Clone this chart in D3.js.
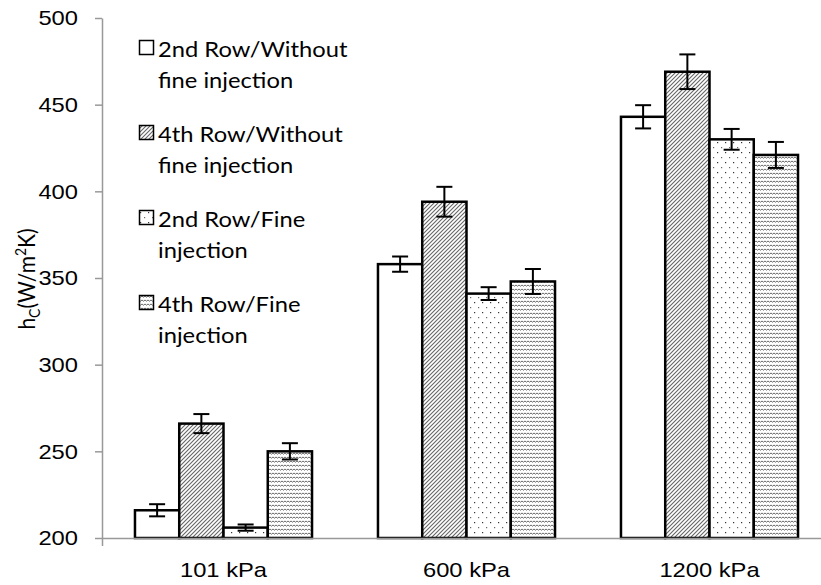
<!DOCTYPE html>
<html>
<head>
<meta charset="utf-8">
<script src="https://cdn.jsdelivr.net/npm/d3@7/dist/d3.min.js"></script>
<style>
  body { margin: 0; background: #fff; }
  svg { display: block; font-family: Lato, "Open Sans", sans-serif; }
</style>
</head>
<body>
<div id="chart"></div>
<script>
// pressures on the category axis
var categories = ["101 kPa", "600 kPa", "1200 kPa"];
var seriesNames = ["2nd Row/Without fine injection", "4th Row/Without fine injection",
                   "2nd Row/Fine injection", "4th Row/Fine injection"];
// h_C values (W/m2K) per series, one per category
var row2NoFine = [216, 358, 443];
var row4NoFine = [266, 394, 469];
var row2Fine   = [206, 341, 430];
var row4Fine   = [250, 348, 421];
// error bar half-widths
var row2NoFineErr = [3.5, 4.4, 6.7];
var row4NoFineErr = [5.5, 8.6, 10];
var row2FineErr   = [1.8, 3.7, 6];
var row4FineErr   = [4.7, 7.2, 7.5];
var yTicks = [200, 250, 300, 350, 400, 450, 500];
// legend lines, already wrapped like the source
var legendLines = [["2nd Row/Without", "fine injection"], ["4th Row/Without", "fine injection"],
                   ["2nd Row/Fine", "injection"], ["4th Row/Fine", "injection"]];

var values = [row2NoFine, row4NoFine, row2Fine, row4Fine];
var errors = [row2NoFineErr, row4NoFineErr, row2FineErr, row4FineErr];
var fills = ["#fff", "url(#pDiag)", "url(#pDots)", "url(#pWave)"];

var width = 821, height = 585;
var stretch = "scale(1.13,1)";   // source text is a bit wide
var svg = d3.select("#chart").append("svg").attr("width", width).attr("height", height);

// fill patterns
var defs = svg.append("defs");
var pd = defs.append("pattern").attr("id", "pDiag").attr("patternUnits", "userSpaceOnUse")
  .attr("width", 4).attr("height", 4);
pd.append("rect").attr("width", 4).attr("height", 4).attr("fill", "#fff");
pd.append("path").attr("d", "M-1,1 l2,-2 M0,4 l4,-4 M3,5 l2,-2")
  .attr("stroke", "#666").attr("stroke-width", 1.1);

var pt = defs.append("pattern").attr("id", "pDots").attr("patternUnits", "userSpaceOnUse")
  .attr("width", 8).attr("height", 10);
pt.append("rect").attr("width", 8).attr("height", 10).attr("fill", "#fff");
pt.append("rect").attr("x", 1).attr("y", 2).attr("width", 1.2).attr("height", 1.2).attr("fill", "#333");
pt.append("rect").attr("x", 5).attr("y", 7).attr("width", 1.2).attr("height", 1.2).attr("fill", "#666");

var pw = defs.append("pattern").attr("id", "pWave").attr("patternUnits", "userSpaceOnUse")
  .attr("width", 6).attr("height", 4);
pw.append("rect").attr("width", 6).attr("height", 4).attr("fill", "#fff");
pw.append("path").attr("d", "M0,1 l1.5,1.2 l1.5,-1.2 l1.5,1.2 l1.5,-1.2")
  .attr("fill", "none").attr("stroke", "#6a6a6a").attr("stroke-width", 1);

var x0 = d3.scaleBand().domain(categories).range([102, 831]).padding(0);
var x1 = d3.scaleBand().domain(d3.range(4)).range([0, x0.bandwidth()])
  .paddingInner(0).paddingOuter(0.745);
var y = d3.scaleLinear().domain([200, 500]).range([538, 18]);

// bars
var groups = svg.selectAll("g.cat").data(categories).enter().append("g")
  .attr("class", "cat").attr("transform", function(d) { return "translate(" + x0(d) + ",0)"; });

groups.each(function(cat, ci) {
  var g = d3.select(this);
  var recs = values.map(function(v, si) { return { s: si, v: v[ci], e: errors[si][ci] }; });
  g.selectAll("rect").data(recs).enter().append("rect")
    .attr("x", function(d) { return x1(d.s); })
    .attr("y", function(d) { return y(d.v); })
    .attr("width", x1.bandwidth())
    .attr("height", function(d) { return y(200) - y(d.v); })
    .attr("fill", function(d) { return fills[d.s]; })
    .attr("stroke", "#000").attr("stroke-width", 2.5);

  var eb = g.selectAll("g.err").data(recs).enter().append("g").attr("class", "err")
    .attr("stroke", "#000").attr("stroke-width", 2);
  eb.append("line")
    .attr("x1", function(d) { return x1(d.s) + x1.bandwidth() / 2; })
    .attr("x2", function(d) { return x1(d.s) + x1.bandwidth() / 2; })
    .attr("y1", function(d) { return y(d.v + d.e); })
    .attr("y2", function(d) { return y(d.v - d.e); });
  [1, -1].forEach(function(sg) {
    eb.append("line")
      .attr("x1", function(d) { return x1(d.s) + x1.bandwidth() / 2 - 8; })
      .attr("x2", function(d) { return x1(d.s) + x1.bandwidth() / 2 + 8; })
      .attr("y1", function(d) { return y(d.v + sg * d.e); })
      .attr("y2", function(d) { return y(d.v + sg * d.e); });
  });
});

// y axis
var yAxis = svg.append("g").attr("transform", "translate(102,0)")
  .call(d3.axisLeft(y).tickValues(yTicks).tickSize(7).tickPadding(17).tickSizeOuter(0));
yAxis.selectAll("text").attr("font-size", 21).attr("fill", "#000")
  .attr("x", 0).attr("transform", "translate(-24,0) " + stretch);

// x axis, ticks sit between categories
var xAxis = svg.append("g").attr("transform", "translate(0,538)")
  .call(d3.axisBottom(x0).tickSize(0).tickPadding(24).tickSizeOuter(8));
xAxis.selectAll("text").attr("font-size", 21).attr("fill", "#000").attr("transform", stretch);
xAxis.selectAll(".between").data(categories.slice(1)).enter().append("line")
  .attr("x1", function(d) { return x0(d); }).attr("x2", function(d) { return x0(d); })
  .attr("y1", 0).attr("y2", 8);

svg.selectAll(".domain, .tick line, .between").attr("stroke", "#999").attr("stroke-width", 1.5);

// y title
var yt = svg.append("text").attr("transform", "translate(35,279) rotate(-90) scale(1,1.13)")
  .attr("text-anchor", "middle").attr("font-size", 21).attr("fill", "#000");
yt.append("tspan").text("h");
yt.append("tspan").attr("font-size", 14).attr("dy", 4).text("C");
yt.append("tspan").attr("dy", -4).text("(W/m");
yt.append("tspan").attr("font-size", 14).attr("dy", -8).text("2");
yt.append("tspan").attr("dy", 8).text("K)");

// legend
var legend = svg.append("g").attr("transform", "translate(139,40)");
var items = legend.selectAll("g").data(legendLines).enter().append("g")
  .attr("transform", function(d, i) { return "translate(0," + (i * 85) + ")"; });
items.append("rect").attr("x", 0.5).attr("y", 0.5).attr("width", 14).attr("height", 14)
  .attr("fill", function(d, i) { return fills[i]; }).attr("stroke", "#000").attr("stroke-width", 1.5);
items.each(function(lines) {
  var t = d3.select(this).append("text").attr("font-size", 21).attr("fill", "#000")
    .attr("transform", "translate(19,0) " + stretch);
  lines.forEach(function(l, k) {
    t.append("tspan").attr("x", 0).attr("y", 17 + k * 31).text(l);
  });
});
</script>
</body>
</html>
